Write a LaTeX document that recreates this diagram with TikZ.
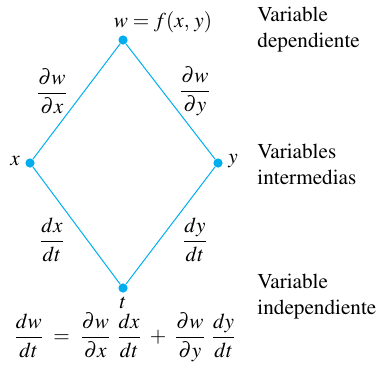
\documentclass[tikz,border=0pt]{standalone}
\usepackage[T1]{fontenc}
\usepackage{amsmath}
\usepackage{mathptmx}
\usepackage{tikz}
\usetikzlibrary{positioning}
\definecolor{treeblue}{RGB}{0,174,239}

\begin{document}
\begin{tikzpicture}[x=0.5pt,y=-0.5pt,font=\fontsize{10.6}{13}\selectfont]
            \tikzset{
                vardot/.style={
                    circle,
                    fill=treeblue,
                    inner sep=0pt,
                    minimum size=4.6pt
                },
                branch/.style={
                    draw=treeblue,
                    line width=0.5pt
                },
                caption/.style={
                    anchor=west,
                    align=left,
                    inner sep=0pt
                }
            }
            \useasboundingbox (0,0) rectangle (379,365);

            % Tree vertices
            \node[vardot] (w) at (123,40) {};
            \node[vardot] (x) at (30,163) {};
            \node[vardot] (y) at (218,163) {};
            \node[vardot] (t) at (123,288) {};

            \draw[branch] (w) -- (x);
            \draw[branch] (w) -- (y);
            \draw[branch] (x) -- (t);
            \draw[branch] (y) -- (t);

            % Vertex labels
            \node (w_lab) at (163,22) {$w = f(x,\,y)$};
            \node (x_lab) at (15,161) {$x$};
            \node (y_lab) at (233,161) {$y$};
            \node (t_lab) at (123,303) {$t$};

            % Branch derivatives
            \node (dwdx) at (52,91) {$\dfrac{\partial w}{\partial x}$};
            \node (dwdy) at (195,91) {$\dfrac{\partial w}{\partial y}$};
            \node (dxdt) at (52,240) {$\dfrac{dx}{dt}$};
            \node (dydt) at (195,240) {$\dfrac{dy}{dt}$};

            % Chain rule
            \node (rule) at (125,337) {$\dfrac{dw}{dt} \;=\; \dfrac{\partial w}{\partial x}\;\dfrac{dx}{dt} \;+\; \dfrac{\partial w}{\partial y}\;\dfrac{dy}{dt}$};

            % Level captions
            \node[caption] (dep) at (257,30) {Variable\\dependiente};
            \node[caption] (inter) at (257,164) {Variables\\intermedias};
            \node[caption] (indep) at (257,297) {Variable\\independiente};
        \end{tikzpicture}
\end{document}
